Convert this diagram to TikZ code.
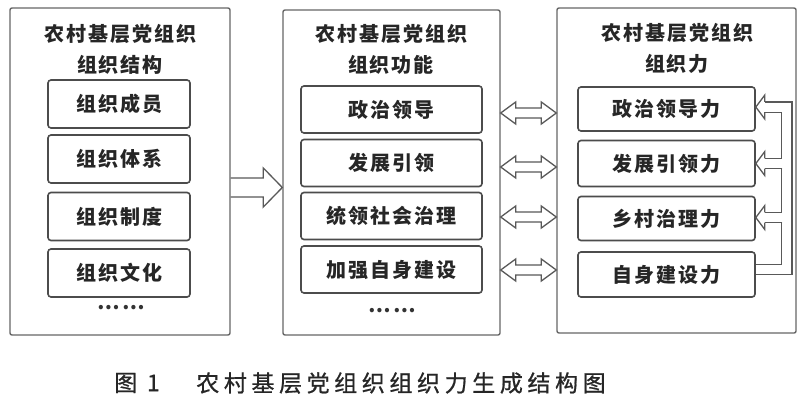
\documentclass[tikz,border=0pt]{standalone}
\usepackage{fontspec}
\newfontfamily\cjk[LetterSpace=10]{Noto Sans CJK SC}
\newfontfamily\cjkcap[LetterSpace=20,FakeBold=0.8]{Noto Sans CJK SC}
\usetikzlibrary{arrows.meta,calc}
% block arrow: style, start, tip, shaft half, head half, head length
\newcommand{\myrarrow}[6]{%
  \draw[#1] ($(#2)+(0,#4)$) -- ($(#3)+(-#6,#4)$) -- ($(#3)+(-#6,#5)$) -- (#3)
    -- ($(#3)+(-#6,-#5)$) -- ($(#3)+(-#6,-#4)$) -- ($(#2)+(0,-#4)$);}
% double-headed block arrow: style, left tip, right tip, shaft half, head half, head length
\newcommand{\mydarrow}[6]{%
  \draw[#1] (#2) -- ($(#2)+(#6,#5)$) -- ($(#2)+(#6,#4)$) -- ($(#3)+(-#6,#4)$)
    -- ($(#3)+(-#6,#5)$) -- (#3) -- ($(#3)+(-#6,-#5)$) -- ($(#3)+(-#6,-#4)$)
    -- ($(#2)+(#6,-#4)$) -- ($(#2)+(#6,-#5)$) -- cycle;}
% left-pointing hollow head at tip: style, tip
\newcommand{\myhead}[2]{%
  \filldraw[#1] ($(#2)+(9,5.15)$) -- ($(#2)+(9,12)$) -- (#2) -- ($(#2)+(9,-12)$) -- ($(#2)+(9,-5.15)$);}
\begin{document}
\begin{tikzpicture}[x=1pt,y=-1pt,
  outerbox/.style={draw=black!60, line width=1.4pt, rounded corners=2pt, inner sep=0pt},
  innerbox/.style={draw=black!70, line width=1.6pt, rounded corners=3pt, inner sep=0pt,
    font=\cjk\fontsize{20}{24}\selectfont\bfseries, text=black!85},
  titletext/.style={align=center, inner sep=0pt, font=\cjk\fontsize{20}{31}\selectfont\bfseries, text=black!85},
  dotstext/.style={inner sep=0pt, font=\cjk\fontsize{20}{24}\selectfont\bfseries, text=black!80},
  captext/.style={inner sep=0pt, font=\cjkcap\fontsize{23}{26}\selectfont, text=black!85},
  blk/.style={draw=black!65, line width=1.3pt, line join=miter},
  headst/.style={fill=white, draw=black!65, line width=1.3pt, line join=miter},
  fbline/.style={double=white, double distance=9pt, line width=1.3pt, draw=black!65}
]
\useasboundingbox (0,0) rectangle (800,407);
\fill[white] (0,0) rectangle (800,407);

% outer boxes
\node[outerbox, minimum width=220pt, minimum height=327pt] (L) at (120,171.5) {};
\node[outerbox, minimum width=217pt, minimum height=325pt] (M) at (391.5,172.5) {};
\node[outerbox, minimum width=239pt, minimum height=325pt] (R) at (676.5,170.5) {};

% titles
\node[titletext] (Lt) at (120,49.5) {农村基层党组织\\组织结构};
\node[titletext] (Mt) at (391,49.5) {农村基层党组织\\组织功能};
\node[titletext] (Rt) at (677,48) {农村基层党组织\\组织力};

% left inner
\node[innerbox, minimum width=142pt, minimum height=48pt] (L1) at (119,104) {组织成员};
\node[innerbox, minimum width=142pt, minimum height=48pt] (L2) at (119,159) {组织体系};
\node[innerbox, minimum width=142pt, minimum height=48pt] (L3) at (119,216.5) {组织制度};
\node[innerbox, minimum width=142pt, minimum height=48pt] (L4) at (119,273) {组织文化};
\node[dotstext] (Ld) at (121,308) {……};

% middle inner
\node[innerbox, minimum width=181pt, minimum height=47pt] (M1) at (391.5,109.5) {政治领导};
\node[innerbox, minimum width=181pt, minimum height=47pt] (M2) at (391.5,163) {发展引领};
\node[innerbox, minimum width=181pt, minimum height=47pt] (M3) at (391.5,216) {统领社会治理};
\node[innerbox, minimum width=181pt, minimum height=47pt] (M4) at (391.5,269.5) {加强自身建设};
\node[dotstext] (Md) at (392,311) {……};

% right inner
\node[innerbox, minimum width=177pt, minimum height=44pt] (R1) at (666.5,109) {政治领导力};
\node[innerbox, minimum width=177pt, minimum height=46pt] (R2) at (666.5,163.5) {发展引领力};
\node[innerbox, minimum width=177pt, minimum height=44pt] (R3) at (666.5,218.5) {乡村治理力};
\node[innerbox, minimum width=177pt, minimum height=45pt] (R4) at (666.5,274.5) {自身建设力};

% big arrow
\coordinate (ay) at (0,187.5);
\myrarrow{blk}{L.east |- ay}{M.west |- ay}{9.5}{19.5}{19}

% double arrows between functions and forces
\coordinate (d1) at (0,113);
\coordinate (d2) at (0,167);
\coordinate (d3) at (0,217);
\coordinate (d4) at (0,270);
\mydarrow{blk}{M.east |- d1}{R.west |- d1}{5}{11}{15}
\mydarrow{blk}{M.east |- d2}{R.west |- d2}{5}{11}{15}
\mydarrow{blk}{M.east |- d3}{R.west |- d3}{5}{11}{15}
\mydarrow{blk}{M.east |- d4}{R.west |- d4}{5}{11}{15}

% feedback
\coordinate (f1) at ([yshift=2pt]R1.east);
\coordinate (f2) at (R2.east);
\coordinate (f3) at ([yshift=1pt]R3.east);
\coordinate (f4) at ([yshift=5pt]R4.east);
\draw[fbline] (f4) -- ++(31,0) |- ($(f1)+(9,0)$);
\draw[fbline] ($(f2)+(26.5,0)$) -- ($(f2)+(9,0)$);
\draw[fbline] ($(f3)+(26.5,0)$) -- ($(f3)+(9,0)$);
\myhead{headst}{f1}
\myhead{headst}{f2}
\myhead{headst}{f3}

% caption
\node[captext] (cap1) at (137,383) {图 1};
\node[captext] (cap2) at (401,383) {农村基层党组织组织力生成结构图};
\end{tikzpicture}
\end{document}
